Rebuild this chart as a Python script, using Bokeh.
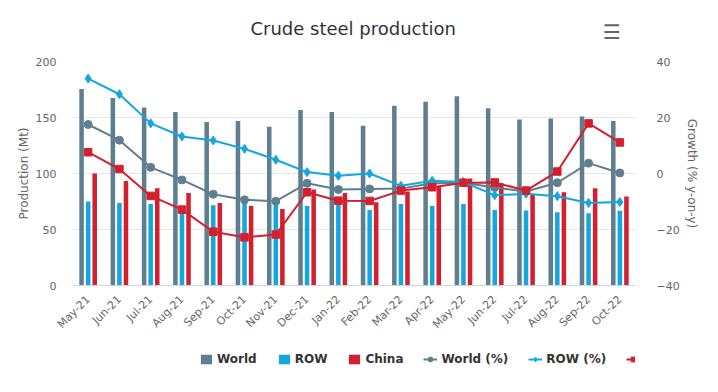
from math import pi
from bokeh.plotting import figure
from bokeh.layouts import column
from bokeh.models import (ColumnDataSource, FactorRange, Range1d, LinearAxis, FixedTicker,
                          Legend, LegendItem, Label)
from bokeh.transform import dodge
from bokeh.embed import file_html
from bokeh.resources import INLINE

months = ["May-21", "Jun-21", "Jul-21", "Aug-21", "Sep-21", "Oct-21", "Nov-21", "Dec-21",
          "Jan-22", "Feb-22", "Mar-22", "Apr-22", "May-22", "Jun-22", "Jul-22", "Aug-22",
          "Sep-22", "Oct-22"]
world = [175.5, 167.3, 159.0, 155.0, 146.0, 146.8, 141.8, 156.7, 155.0, 142.7, 160.5, 164.0,
         169.0, 158.2, 148.2, 149.1, 150.9, 146.8]
row = [75.1, 73.7, 72.8, 70.0, 71.6, 73.7, 72.2, 71.0, 72.2, 67.5, 72.8, 71.0, 72.8, 67.5,
       67.0, 65.5, 64.6, 66.7]
china = [100.0, 93.3, 86.8, 82.5, 73.7, 71.0, 68.4, 85.7, 82.5, 74.3, 83.9, 88.0, 95.6, 91.2,
         81.5, 83.3, 86.8, 79.5]
world_pct = [17.5, 11.9, 2.2, -2.3, -7.4, -9.4, -9.9, -3.5, -5.7, -5.5, -5.4, -3.5, -3.3, -5.0,
             -6.4, -3.3, 3.7, 0.2]
row_pct = [33.9, 28.3, 17.9, 13.2, 11.8, 8.8, 4.9, 0.5, -0.8, 0.0, -4.4, -2.6, -3.0, -7.8, -7.2,
           -8.1, -10.5, -10.2]
china_pct = [7.6, 1.6, -8.0, -12.9, -20.8, -22.8, -21.8, -6.7, -9.7, -9.8, -6.1, -4.9, -3.3,
             -3.2, -6.1, 0.7, 17.9, 11.1]
left_ticks = [0, 50, 100, 150, 200]
right_ticks = [-40, -20, 0, 20, 40]

C_WORLD = "#5f7e90"
C_ROW = "#12a7e0"
C_CHINA = "#d41f2f"
FONT = "DejaVu Sans"
W = 716

src = ColumnDataSource(dict(month=months, world=world, row=row, china=china,
                            world_pct=world_pct, row_pct=row_pct, china_pct=china_pct))


def draw_series(fig, bar_kw, line_kw):
    bw = 0.145
    xr = fig.x_range
    rw = fig.vbar(x=dodge("month", -0.21, range=xr), top="world", width=bw, source=src,
                  fill_color=C_WORLD, line_color=None, **bar_kw)
    rr = fig.vbar(x=dodge("month", 0.0, range=xr), top="row", width=bw, source=src,
                  fill_color=C_ROW, line_color=None, **bar_kw)
    rc = fig.vbar(x=dodge("month", 0.21, range=xr), top="china", width=bw, source=src,
                  fill_color=C_CHINA, line_color=None, **bar_kw)
    lw = fig.line(x="month", y="world_pct", source=src, line_color=C_WORLD, line_width=2, **line_kw)
    sw = fig.scatter(x="month", y="world_pct", source=src, marker="circle", size=8,
                     fill_color=C_WORLD, line_color=C_WORLD, **line_kw)
    lr = fig.line(x="month", y="row_pct", source=src, line_color=C_ROW, line_width=2, **line_kw)
    sr = fig.scatter(x="month", y="row_pct", source=src, marker="diamond", size=9,
                     fill_color=C_ROW, line_color=C_ROW, **line_kw)
    lc = fig.line(x="month", y="china_pct", source=src, line_color=C_CHINA, line_width=2, **line_kw)
    sc = fig.scatter(x="month", y="china_pct", source=src, marker="square", size=7.5,
                     fill_color=C_CHINA, line_color=C_CHINA, **line_kw)
    return rw, rr, rc, [lw, sw], [lr, sr], [lc, sc]


# ---- title strip ----
tfig = figure(width=W, height=53, x_range=Range1d(0, W), y_range=Range1d(0, 53),
              x_axis_location=None, y_axis_location=None, output_backend="svg",
              toolbar_location=None, min_border=0)
tfig.outline_line_color = None
tfig.grid.visible = False
tfig.add_layout(Label(x=357, y=25, text="Crude steel production", text_font=FONT,
                      text_font_size="18px", text_color="#333333", text_align="center",
                      text_baseline="middle"))
tfig.add_layout(Label(x=686, y=22, text="☰", text_font=FONT, text_font_size="20px",
                      text_color="#666666", text_align="center", text_baseline="middle"))

# ---- main chart ----
p = figure(width=W, height=285, x_range=FactorRange(*months), y_range=Range1d(0, 200),
           output_backend="svg", toolbar_location=None,
           min_border_left=72, min_border_right=81, min_border_top=8, min_border_bottom=49)
p.outline_line_color = None
p.extra_y_ranges = {"growth": Range1d(-40, 40)}
draw_series(p, {}, {"y_range_name": "growth"})

p.xgrid.grid_line_color = None
p.ygrid.grid_line_color = "#e6e6e6"
p.ygrid.ticker = FixedTicker(ticks=left_ticks)

xa = p.xaxis[0]
xa.axis_line_color = "#ccd6eb"
xa.major_tick_line_color = None
xa.minor_tick_line_color = None
xa.major_label_orientation = pi / 4
xa.major_label_text_color = "#666666"
xa.major_label_text_font = FONT
xa.major_label_text_font_size = "11px"
xa.major_label_standoff = 6

ya = p.yaxis[0]
ya.ticker = FixedTicker(ticks=left_ticks)
ya.axis_label = "Production (Mt)"
ya.axis_line_color = None
ya.major_tick_line_color = None
ya.minor_tick_line_color = None
ya.major_label_text_color = "#666666"
ya.major_label_text_font = FONT
ya.major_label_text_font_size = "11px"
ya.axis_label_text_color = "#666666"
ya.axis_label_text_font = FONT
ya.axis_label_text_font_size = "12px"
ya.axis_label_text_font_style = "normal"
ya.major_label_standoff = 10
ya.axis_label_standoff = 2

ra = LinearAxis(y_range_name="growth", axis_label="Growth (% y-on-y)",
                ticker=FixedTicker(ticks=right_ticks))
ra.axis_line_color = None
ra.major_tick_line_color = None
ra.minor_tick_line_color = None
ra.major_label_text_color = "#666666"
ra.major_label_text_font = FONT
ra.major_label_text_font_size = "11px"
ra.axis_label_text_color = "#666666"
ra.axis_label_text_font = FONT
ra.axis_label_text_font_size = "12px"
ra.axis_label_text_font_style = "normal"
ra.major_label_standoff = 15
ra.axis_label_standoff = 2
p.add_layout(ra, "right")

# ---- legend strip (series glyphs sit outside its visible y range; only the legend shows) ----
lfig = figure(width=W, height=52, x_range=FactorRange(*months), y_range=Range1d(1000, 1001),
              x_axis_location=None, y_axis_location=None, output_backend="svg",
              toolbar_location=None, min_border=0)
lfig.outline_line_color = None
lfig.grid.visible = False
rw, rr, rc, lw_, lr_, lc_ = draw_series(lfig, {}, {})

legend = Legend(items=[
    LegendItem(label="World", renderers=[rw]),
    LegendItem(label="ROW", renderers=[rr]),
    LegendItem(label="China", renderers=[rc]),
    LegendItem(label="World (%)", renderers=lw_),
    LegendItem(label="ROW (%)", renderers=lr_),
    LegendItem(label="China (%)", renderers=lc_),
], orientation="horizontal", location=(127, 24), border_line_color=None,
    background_fill_alpha=0, label_text_font=FONT, label_text_font_size="12px",
    label_text_font_style="bold", label_text_color="#333333", glyph_width=14, glyph_height=12,
    spacing=20, label_standoff=4, padding=0, margin=0)
lfig.add_layout(legend, "center")
lfig.add_layout(Label(x=695, y=12, x_units="screen", y_units="screen", text="worldsteel.org",
                      text_font=FONT, text_font_size="9px", text_color="#999999",
                      text_align="right", text_baseline="middle"))

page = column(tfig, p, lfig, spacing=0)
open("out.html", "w").write(file_html(page, INLINE))
